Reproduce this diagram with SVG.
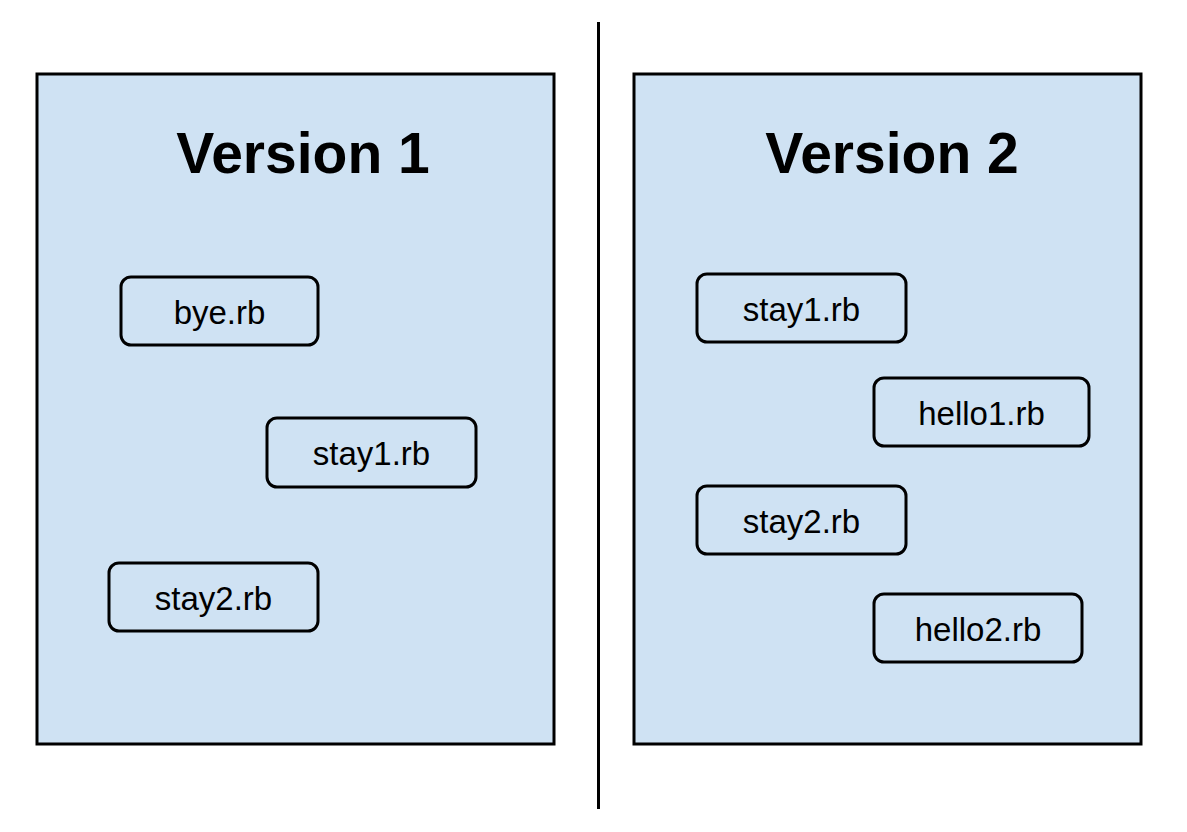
<svg xmlns="http://www.w3.org/2000/svg" width="1187" height="832" viewBox="0 0 1187 832">
<style>
.panel{fill:#cfe2f3;stroke:#000;stroke-width:3}
.file{fill:#cfe2f3;stroke:#000;stroke-width:3}
.title{font-family:"Liberation Sans",Arial,sans-serif;font-weight:bold;font-size:57px;fill:#000;text-anchor:middle}
.lbl{font-family:"Liberation Sans",Arial,sans-serif;font-size:33px;fill:#000;text-anchor:middle}
</style>
<rect width="1187" height="832" fill="#fff"/>
<g id="divider"><line x1="598.5" y1="22" x2="598.5" y2="809" stroke="#000" stroke-width="3"/></g>
<g id="version1">
<rect class="panel" x="37" y="74" width="517" height="670"/>
<text class="title" x="303" y="173">Version 1</text>
</g>
<g id="version2">
<rect class="panel" x="634" y="74" width="507" height="670"/>
<text class="title" x="892" y="173">Version 2</text>
</g>
<g id="v1-bye"><rect class="file" x="121" y="277" width="197" height="68" rx="10"/><text class="lbl" x="219.5" y="324">bye.rb</text></g>
<g id="v1-stay1"><rect class="file" x="267" y="418" width="209" height="69" rx="10"/><text class="lbl" x="371.5" y="465">stay1.rb</text></g>
<g id="v1-stay2"><rect class="file" x="109" y="563" width="209" height="68" rx="10"/><text class="lbl" x="213.5" y="610">stay2.rb</text></g>
<g id="v2-stay1"><rect class="file" x="697" y="274" width="209" height="68" rx="10"/><text class="lbl" x="801.5" y="321">stay1.rb</text></g>
<g id="v2-hello1"><rect class="file" x="874" y="378" width="215" height="68" rx="10"/><text class="lbl" x="981.5" y="425">hello1.rb</text></g>
<g id="v2-stay2"><rect class="file" x="697" y="486" width="209" height="68" rx="10"/><text class="lbl" x="801.5" y="533">stay2.rb</text></g>
<g id="v2-hello2"><rect class="file" x="874" y="594" width="208" height="68" rx="10"/><text class="lbl" x="978" y="641">hello2.rb</text></g>
<g id="connectors"></g>
</svg>
